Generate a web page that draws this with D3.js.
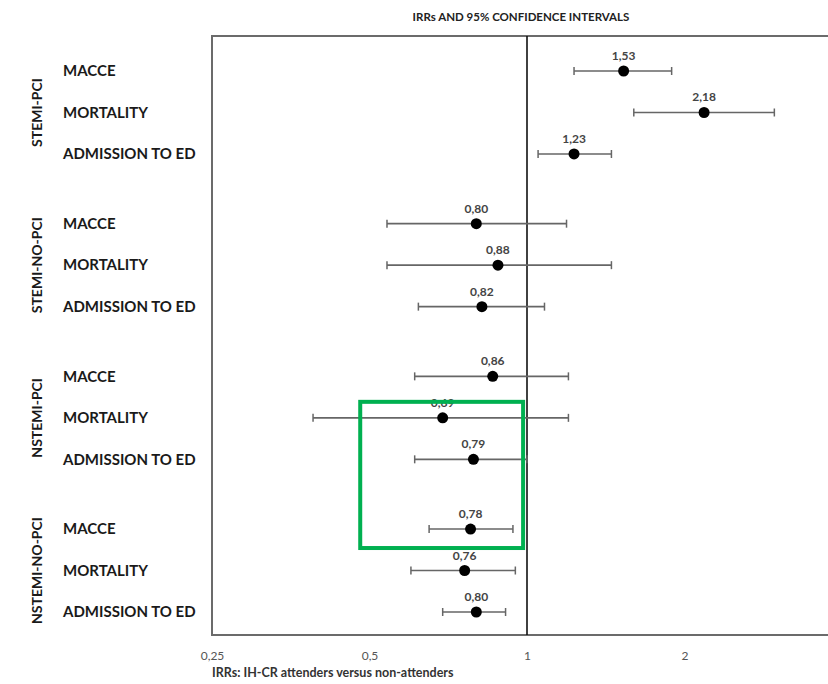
<!DOCTYPE html>
<html>
<head>
<meta charset="utf-8">
<script src="https://cdn.jsdelivr.net/npm/d3@7"></script>
<style>
  html, body { margin: 0; padding: 0; background: #fff; }
  svg { display: block; font-family: Lato, "Open Sans", sans-serif; }
</style>
</head>
<body>
<svg id="chart" width="828" height="684"></svg>
<script>
// ---- data ----
const groups = ["STEMI-PCI", "STEMI-NO-PCI", "NSTEMI-PCI", "NSTEMI-NO-PCI"];
const outcomes = ["MACCE", "MORTALITY", "ADMISSION TO ED"];
// IRR point estimates, per group (rows: groups, cols: outcomes)
const irr = [
  [1.53, 2.18, 1.23],
  [0.80, 0.88, 0.82],
  [0.86, 0.69, 0.79],
  [0.78, 0.76, 0.80]
];
const ciLow = [
  [1.23, 1.60, 1.05],
  [0.54, 0.54, 0.62],
  [0.61, 0.39, 0.61],
  [0.65, 0.60, 0.69]
];
const ciHigh = [
  [1.89, 2.97, 1.45],
  [1.19, 1.45, 1.08],
  [1.20, 1.20, 1.00],
  [0.94, 0.95, 0.91]
];
const tickValues = [0.25, 0.5, 1, 2];
const tickLabels = ["0,25", "0,5", "1", "2"];
const title = "IRRs AND 95% CONFIDENCE INTERVALS";
const xTitle = "IRRs: IH-CR attenders versus non-attenders";
// highlighted region (annotation box): value range and rows it spans
const highlightX = [0.48, 0.983];
const highlightRows = [[2, 1], [3, 0]];

// ---- layout ----
const groupStep = 3.68; // rows per group including gap
const rows = [];
groups.forEach((g, gi) => outcomes.forEach((o, oi) => {
  rows.push({ group: g, gi, outcome: o, oi, idx: gi * groupStep + oi,
    v: irr[gi][oi], lo: ciLow[gi][oi], hi: ciHigh[gi][oi] });
}));

const svg = d3.select("#chart");
const x = d3.scaleLog().base(2).domain([0.25, 4]).range([212, 842]);
const y = d3.scaleLinear().domain([0, 3 * groupStep + 2]).range([71, 612]);
const idxOf = (gi, oi) => gi * groupStep + oi;

const plotTop = 36, plotBottom = 635;

// frame
svg.append("rect")
  .attr("x", x(0.25)).attr("y", plotTop)
  .attr("width", x(4) - x(0.25)).attr("height", plotBottom - plotTop)
  .attr("fill", "none").attr("stroke", "#6b6b6b").attr("stroke-width", 2);

// reference line at 1
svg.append("line")
  .attr("x1", x(1)).attr("x2", x(1))
  .attr("y1", plotTop).attr("y2", plotBottom)
  .attr("stroke", "#111").attr("stroke-width", 1.6);

// x axis (labels only)
const xAxis = d3.axisBottom(x).tickValues(tickValues)
  .tickFormat((d, i) => tickLabels[i]).tickSize(0).tickPadding(16);
const gx = svg.append("g").attr("transform", `translate(0,${plotBottom})`).call(xAxis);
gx.select(".domain").remove();
gx.selectAll("text").attr("font-size", 12).attr("fill", "#555")
  .attr("font-family", "Lato, sans-serif");

// title
svg.append("text").attr("x", 521).attr("y", 21).attr("text-anchor", "middle")
  .attr("font-size", 11.5).attr("font-weight", 700).attr("fill", "#222")
  .text(title);

svg.append("text").attr("x", 212).attr("y", 677)
  .attr("font-size", 12.5).attr("font-weight", 700).attr("fill", "#333")
  .text(xTitle);

// row labels
svg.append("g").selectAll("text").data(rows).join("text")
  .attr("x", 63).attr("y", d => y(d.idx)).attr("dy", "0.35em")
  .attr("font-size", 15).attr("font-weight", 700).attr("fill", "#1a1a1a")
  .text(d => d.outcome);

// group labels
svg.append("g").selectAll("text").data(groups).join("text")
  .attr("transform", (d, gi) => `translate(37,${y(idxOf(gi, 1))}) rotate(-90)`)
  .attr("text-anchor", "middle").attr("dy", "0.35em")
  .attr("font-size", 14).attr("font-weight", 700).attr("fill", "#1a1a1a")
  .text(d => d);

// error bars
const eb = svg.append("g").selectAll("g").data(rows).join("g");
eb.append("line")
  .attr("x1", d => x(d.lo)).attr("x2", d => x(d.hi))
  .attr("y1", d => y(d.idx)).attr("y2", d => y(d.idx))
  .attr("stroke", "#666").attr("stroke-width", 1.6);
eb.append("line")
  .attr("x1", d => x(d.lo)).attr("x2", d => x(d.lo))
  .attr("y1", d => y(d.idx) - 4).attr("y2", d => y(d.idx) + 4)
  .attr("stroke", "#666").attr("stroke-width", 1.5);
eb.append("line")
  .attr("x1", d => x(d.hi)).attr("x2", d => x(d.hi))
  .attr("y1", d => y(d.idx) - 4).attr("y2", d => y(d.idx) + 4)
  .attr("stroke", "#666").attr("stroke-width", 1.5);
eb.append("circle")
  .attr("cx", d => x(d.v)).attr("cy", d => y(d.idx)).attr("r", 5.5)
  .attr("fill", "#000");
eb.append("text")
  .attr("x", d => x(d.v)).attr("y", d => y(d.idx) - 11)
  .attr("text-anchor", "middle").attr("font-size", 12).attr("font-weight", 700)
  .attr("fill", "#444")
  .text(d => d3.format(".2f")(d.v).replace(".", ","));

// highlight box (annotation)
const hy0 = y(idxOf(...highlightRows[0])) - 16;
const hy1 = y(idxOf(...highlightRows[1])) + 19;
svg.append("rect")
  .attr("x", x(highlightX[0])).attr("y", hy0)
  .attr("width", x(highlightX[1]) - x(highlightX[0])).attr("height", hy1 - hy0)
  .attr("fill", "none").attr("stroke", "#00b050").attr("stroke-width", 4);
</script>
</body>
</html>
